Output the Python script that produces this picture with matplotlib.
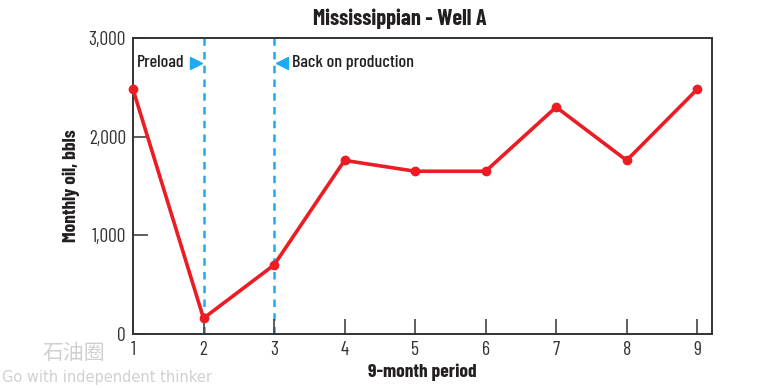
import numpy as np
import matplotlib.pyplot as plt

# data
periods = [1, 2, 3, 4, 5, 6, 7, 8, 9]
oil = [2480, 160, 700, 1760, 1650, 1650, 2300, 1760, 2480]
yticks = [0, 1000, 2000, 3000]
ytick_labels = ['0', '1,000', '2,000', '3,000']
event_x = [2, 3]

plt.rcParams['font.family'] = ['Barlow Condensed', 'DejaVu Sans']

red = '#ec1c24'
blue = '#1eaaf1'
ink = '#231f20'

fig = plt.figure(figsize=(7.75, 3.88), dpi=100)
ax = fig.add_axes([0.1716, 0.139, 0.7471, 0.763])

for xv in event_x:
    ax.axvline(xv, color=blue, lw=1.8, ls=(0, (3, 2.5)), zorder=1)

ax.plot(periods, oil, color=red, lw=2.6, marker='o', ms=6, zorder=3, clip_on=False)

ax.set_xlim(1, 9.21)
ax.set_ylim(0, 3000)
ax.set_xticks(periods)
ax.set_yticks(yticks)
ax.set_yticklabels(ytick_labels)
ax.tick_params(direction='in', length=11, width=1.2, color='#444444',
               labelsize=14, labelcolor='#333333', pad=5)
for s in ax.spines.values():
    s.set_color('#333333')
    s.set_linewidth(1.4)

fig.text(400 / 775, 1 - 19 / 388, 'Mississippian - Well A', fontsize=16, fontweight='bold',
         color=ink, ha='center', va='center')
ax.set_xlabel('9-month period', fontsize=14, fontweight='bold', color=ink, labelpad=3)
ax.set_ylabel('Monthly oil, bbls', fontsize=14, fontweight='bold', color=ink, labelpad=6)

ax.text(1.06, 2750, 'Preload', fontsize=13, fontweight='medium', color=ink, va='center', ha='left')
ax.plot([1.89], [2750], marker='>', color=blue, ms=8, mec=blue)
ax.plot([3.11], [2750], marker='<', color=blue, ms=8, mec=blue)
ax.text(3.25, 2750, 'Back on production', fontsize=13, fontweight='medium', color=ink,
        va='center', ha='left')

# watermark
fig.text(0.055, 0.075, '石油圈', fontsize=15, color='#d0d0d0',
         family=['Noto Sans CJK SC', 'DejaVu Sans'])
fig.text(0.003, 0.015, 'Go with independent thinker', fontsize=10.5, color='#d0d0d0',
         family=['DejaVu Sans'])

fig.savefig('out.png', dpi=100)
